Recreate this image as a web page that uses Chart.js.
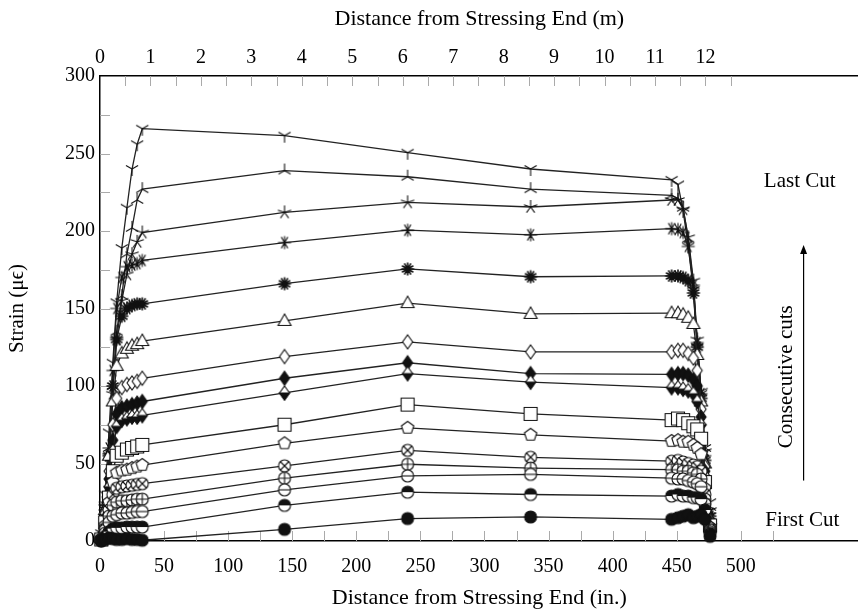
<!DOCTYPE html>
<html>
<head>
<meta charset="utf-8">
<script src="https://cdn.jsdelivr.net/npm/chart.js@4.4.1/dist/chart.umd.min.js"></script>
<style>
  html, body { margin: 0; background: #fff; overflow: hidden; }
  canvas { display: block; }
</style>
</head>
<body>
<canvas id="strain_chart" width="866" height="614"></canvas>
<script>
// gauge positions along the member (in.)
const positions = [1, 4, 7, 10, 13, 17, 21, 25, 29, 33, 144, 240, 336, 446, 451, 455, 459, 463, 466, 469, 472, 476];

// strain readings after each cut (first cut -> last cut)
const cut01 = [0, 1, 2, 1.5, 1, 1, 1.5, 1, 1, 0.5, 7.5, 14.5, 15.5, 14, 15, 16, 17, 15, 16, 17, 14, 3];
const cut02 = [0.5, 3, 6, 8, 8.5, 8.5, 9, 9, 9, 9, 23, 31.5, 30, 29, 30, 29, 29, 28, 28, 27, 20, 5];
const cut03 = [0.5, 5, 12, 16, 17, 18, 18, 18.5, 19, 19, 33, 42, 43, 40.5, 40, 40, 39, 38, 37, 35, 24, 6];
const cut04 = [1, 7, 16, 23, 25, 26, 26, 26.5, 27, 27, 40.5, 49.5, 47, 46, 46, 45, 45, 44, 43, 40, 27, 7];
const cut05 = [1, 8, 20, 30, 34, 35, 35.5, 36, 36.5, 37, 48.5, 58.5, 54, 51.5, 52, 51, 50, 49, 48, 45, 30, 8];
const cut06 = [1, 10, 25, 38, 44, 45.5, 46, 47, 48, 49, 63, 73, 68.5, 64.5, 65, 64, 64, 62, 60, 56, 34, 9];
const cut07 = [1, 12, 28, 45, 55, 57, 59, 60, 61, 62, 75, 88, 82, 78, 79, 78, 76, 74, 72, 66, 38, 10];
const cut08 = [1, 14, 35, 58, 74, 78, 79, 80, 80, 81, 95.5, 108, 102.5, 99, 99, 98, 97, 95, 90, 75, 42, 11];
const cut09 = [2, 15, 40, 65, 82, 86, 87, 88, 89, 90, 105, 115, 108, 107.5, 108, 108, 107, 104, 100, 80, 45, 12];
const cut10 = [2, 18, 45, 75, 92, 99, 101, 102, 103, 105, 119, 128.5, 122, 122, 123, 123, 121, 118, 110, 85, 48, 13];
const cut11 = [2, 20, 55, 90, 113, 121, 124, 126, 127, 129, 142, 153.5, 146.5, 147, 147, 146, 144, 140, 120, 90, 50, 14];
const cut12 = [2, 20, 55, 100, 130, 145, 150, 152, 153, 153, 166, 175.5, 170.5, 171, 171, 170, 168, 160, 125, 92, 52, 16];
const cut13 = [3, 25, 60, 110, 150, 170, 177, 178, 179, 181, 192.5, 200.5, 197.5, 201.5, 201, 199, 190, 165, 128, 95, 55, 18];
const cut14 = [3, 22, 55, 95, 130, 155, 172, 185, 193, 199, 212, 218.5, 215.5, 220, 220, 214, 196, 168, 130, 97, 58, 20];
const cut15 = [4, 25, 60, 100, 135, 158, 185, 202, 220, 227, 239, 235, 227, 223, 221, 215, 195, 165, 128, 96, 60, 22];
const cut16 = [5, 30, 70, 115, 154, 189, 215, 240, 256, 266, 261.5, 250.5, 240, 233, 230, 213, 190, 162, 125, 95, 60, 25];

const cuts = [cut01, cut02, cut03, cut04, cut05, cut06, cut07, cut08,
              cut09, cut10, cut11, cut12, cut13, cut14, cut15, cut16];

const inchTicks = [0, 50, 100, 150, 200, 250, 300, 350, 400, 450, 500];
const meterTicks = [0, 1, 2, 3, 4, 5, 6, 7, 8, 9, 10, 11, 12];

const IN_TO_M = 0.0254;
const X_MAX = 592;

// ---- marker glyphs (pgfplots-like) ----
function mark(size, draw) {
    const c = document.createElement('canvas');
    c.width = size;
    c.height = size;
    const g = c.getContext('2d');
    g.translate(size / 2, size / 2);
    g.lineWidth = 1.1;
    g.strokeStyle = '#111';
    g.fillStyle = '#111';
    draw(g);
    return c;
}

function circle(g, r, fill) {
    g.beginPath();
    g.arc(0, 0, r, 0, Math.PI * 2);
    g.fillStyle = fill;
    g.fill();
    g.stroke();
}

function arms(g, r, angles) {
    g.beginPath();
    angles.forEach(a => {
        const t = a * Math.PI / 180;
        g.moveTo(0, 0);
        g.lineTo(r * Math.cos(t), -r * Math.sin(t));
    });
    g.stroke();
}

function polygon(g, pts, fill) {
    g.beginPath();
    pts.forEach((p, i) => i ? g.lineTo(p[0], p[1]) : g.moveTo(p[0], p[1]));
    g.closePath();
    g.fillStyle = fill;
    g.fill();
    g.stroke();
}

const markers = [
    mark(16, g => circle(g, 6, '#111')),                       // filled circle
    mark(16, g => {                                             // half circle, top filled
        circle(g, 6, '#fff');
        g.beginPath(); g.arc(0, 0, 6, Math.PI, 0); g.closePath();
        g.fillStyle = '#111'; g.fill();
    }),
    mark(16, g => {                                             // half circle, open
        circle(g, 6, '#fff');
        g.beginPath(); g.moveTo(-6, 0); g.lineTo(6, 0); g.stroke();
    }),
    mark(16, g => {                                             // oplus
        circle(g, 6, '#fff');
        g.beginPath(); g.moveTo(-6, 0); g.lineTo(6, 0); g.moveTo(0, -6); g.lineTo(0, 6); g.stroke();
    }),
    mark(16, g => {                                             // otimes
        circle(g, 6, '#fff');
        arms(g, 6, [45, 135, 225, 315]);
    }),
    mark(16, g => {                                             // pentagon
        const pts = [];
        for (let k = 0; k < 5; k++) {
            const t = (90 + k * 72) * Math.PI / 180;
            pts.push([6.5 * Math.cos(t), -6.5 * Math.sin(t)]);
        }
        polygon(g, pts, '#fff');
    }),
    mark(18, g => polygon(g, [[-6.5, -6.5], [6.5, -6.5], [6.5, 6.5], [-6.5, 6.5]], '#fff')),  // square
    mark(18, g => {                                             // half diamond, lower filled
        polygon(g, [[0, -7], [5, 0], [0, 7], [-5, 0]], '#fff');
        polygon(g, [[-5, 0], [5, 0], [0, 7]], '#111');
    }),
    mark(18, g => polygon(g, [[0, -7], [5, 0], [0, 7], [-5, 0]], '#111')),   // filled diamond
    mark(18, g => polygon(g, [[0, -7], [5, 0], [0, 7], [-5, 0]], '#fff')),   // open diamond
    mark(18, g => polygon(g, [[0, -7], [6.5, 4.5], [-6.5, 4.5]], '#fff')),   // triangle
    mark(18, g => {                                             // filled asterisk burst
        g.lineWidth = 1.6;
        arms(g, 6.5, [0, 30, 60, 90, 120, 150, 180, 210, 240, 270, 300, 330]);
        g.beginPath(); g.arc(0, 0, 2.8, 0, Math.PI * 2); g.fill();
    }),
    mark(18, g => arms(g, 6.5, [0, 60, 90, 120, 180, 240, 270, 300])),  // asterisk
    mark(18, g => arms(g, 7, [90, 162, 234, 306, 18])),                 // star
    mark(18, g => arms(g, 7, [90, 210, 330])),                          // mercedes star
    mark(18, g => arms(g, 7, [270, 30, 150]))                           // mercedes star flipped
];

// ---- inward tick marks and annotations ----
const extras = {
    id: 'extras',
    beforeDatasetsDraw(chart) {
        const {ctx, chartArea: a, scales: {x, y, xTop}} = chart;
        ctx.save();
        ctx.strokeStyle = '#aaa';
        ctx.lineWidth = 1;
        ctx.beginPath();
        for (let v = 25; v < 300; v += 25) {
            const py = Math.round(y.getPixelForValue(v)) + 0.5;
            ctx.moveTo(a.left, py); ctx.lineTo(a.left + 10, py);
        }
        for (let v = 25; v <= 525; v += 25) {
            const px = Math.round(x.getPixelForValue(v)) + 0.5;
            ctx.moveTo(px, a.bottom); ctx.lineTo(px, a.bottom - 10);
        }
        for (let v = 0.5; v <= 12.5; v += 0.5) {
            const px = Math.round(xTop.getPixelForValue(v)) + 0.5;
            ctx.moveTo(px, a.top); ctx.lineTo(px, a.top + 10);
        }
        ctx.stroke();
        ctx.restore();
    },
    afterDraw(chart) {
        const {ctx, scales: {x, y}} = chart;
        ctx.save();
        ctx.fillStyle = '#000';
        ctx.strokeStyle = '#000';
        ctx.font = "21px 'Liberation Serif', serif";
        ctx.textAlign = 'center';
        ctx.textBaseline = 'middle';
        ctx.fillText('Last Cut', x.getPixelForValue(546), y.getPixelForValue(232));
        ctx.fillText('First Cut', x.getPixelForValue(548), y.getPixelForValue(13));

        ctx.save();
        ctx.translate(x.getPixelForValue(536), y.getPixelForValue(106));
        ctx.rotate(-Math.PI / 2);
        ctx.fillText('Consecutive cuts', 0, 0);
        ctx.restore();

        const ax = x.getPixelForValue(549);
        const y0 = y.getPixelForValue(39);
        const y1 = y.getPixelForValue(191);
        ctx.lineWidth = 1.2;
        ctx.beginPath();
        ctx.moveTo(ax, y0); ctx.lineTo(ax, y1 + 4);
        ctx.stroke();
        ctx.beginPath();
        ctx.moveTo(ax, y1); ctx.lineTo(ax - 3.5, y1 + 9); ctx.lineTo(ax + 3.5, y1 + 9);
        ctx.closePath();
        ctx.fill();
        ctx.restore();
    }
};

Chart.defaults.font.family = "'Liberation Serif', serif";
Chart.defaults.font.size = 20;
Chart.defaults.color = '#000';

const ctx = document.getElementById('strain_chart');

new Chart(ctx, {
    type: 'line',
    data: {
        datasets: cuts.map((vals, i) => ({
            label: 'Cut ' + (i + 1),
            data: positions.map((p, k) => ({x: p, y: vals[k]})),
            borderColor: '#222',
            borderWidth: 1.3,
            pointStyle: markers[i],
            pointRadius: 6,
            tension: 0,
            clip: false
        }))
    },
    options: {
        responsive: false,
        animation: false,
        events: [],
        layout: {padding: 0},
        plugins: {
            legend: {display: false},
            tooltip: {enabled: false}
        },
        scales: {
            x: {
                type: 'linear',
                position: 'bottom',
                min: 0,
                max: X_MAX,
                afterBuildTicks: s => { s.ticks = inchTicks.map(v => ({value: v})); },
                ticks: {padding: 14, maxRotation: 0, autoSkip: false},
                grid: {drawOnChartArea: false, drawTicks: false},
                border: {color: '#000', width: 1.5},
                title: {display: true, text: 'Distance from Stressing End (in.)', font: {size: 22}, padding: {bottom: 3}},
                afterFit: s => { s.height = 73; s.paddingLeft = 0; s.paddingRight = 0; }
            },
            xTop: {
                type: 'linear',
                position: 'top',
                min: 0,
                max: X_MAX * IN_TO_M,
                afterBuildTicks: s => { s.ticks = meterTicks.map(v => ({value: v})); },
                ticks: {padding: 6, maxRotation: 0, autoSkip: false},
                grid: {drawOnChartArea: false, drawTicks: false},
                border: {color: '#000', width: 1.5},
                title: {display: true, text: 'Distance from Stressing End (m)', font: {size: 22}, padding: {top: 6}},
                afterFit: s => { s.height = 76; s.paddingLeft = 0; s.paddingRight = 0; }
            },
            y: {
                min: 0,
                max: 300,
                ticks: {stepSize: 50, padding: 5},
                grid: {drawOnChartArea: false, drawTicks: false},
                border: {color: '#000', width: 1.5},
                title: {display: true, text: 'Strain (μϵ)', font: {size: 21}, padding: {top: 5}},
                afterFit: s => { s.width = 100; s.paddingTop = 0; s.paddingBottom = 0; }
            }
        }
    },
    plugins: [extras]
});
</script>
</body>
</html>
